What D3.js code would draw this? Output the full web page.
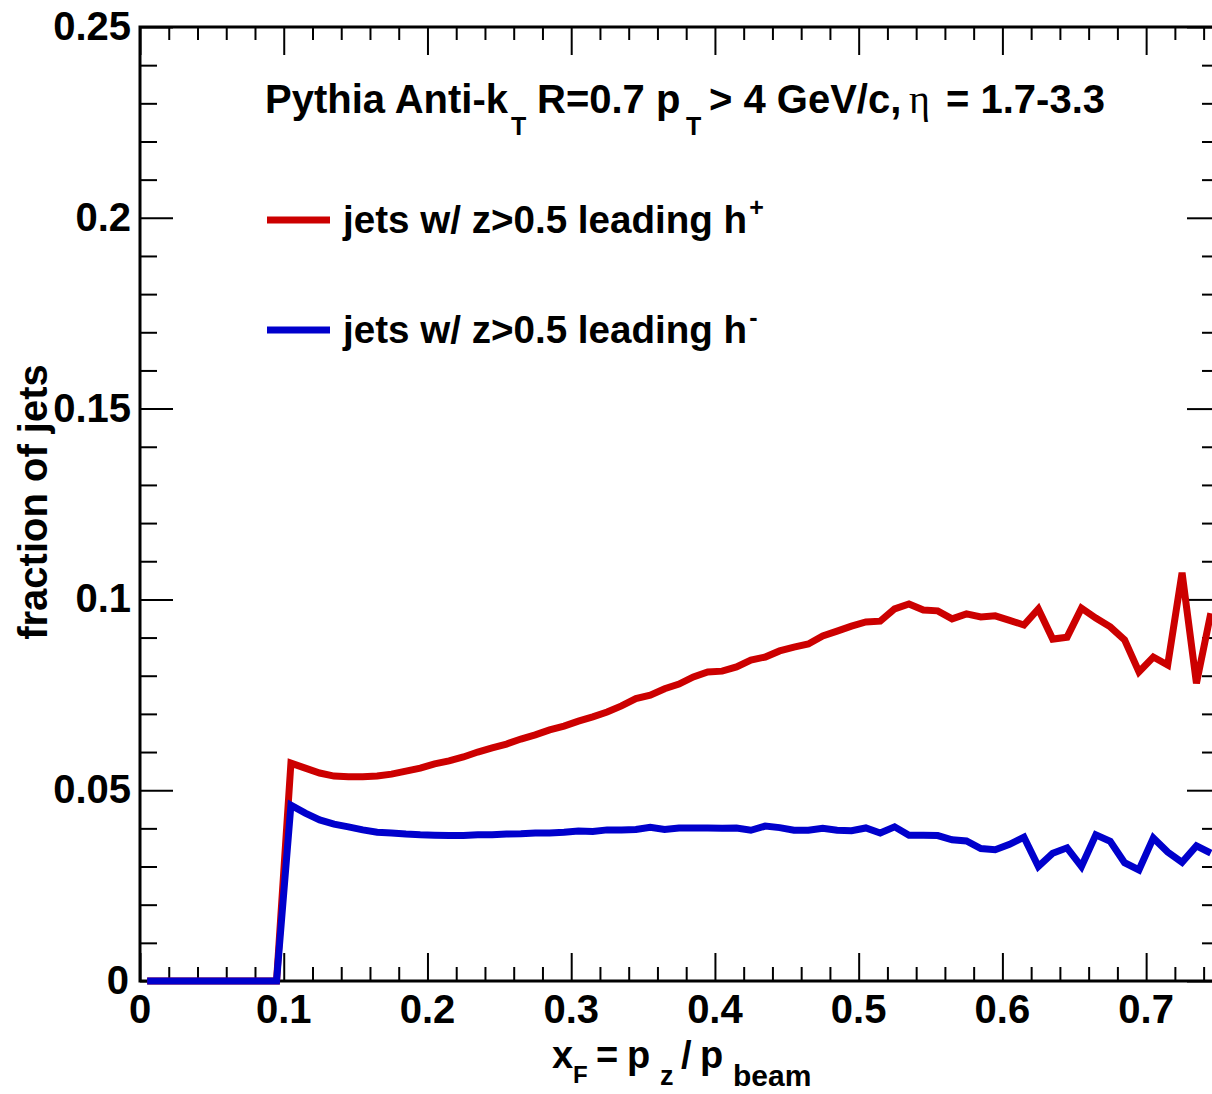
<!doctype html>
<head>
  <meta charset="utf-8">
  <script src="https://cdnjs.cloudflare.com/ajax/libs/d3/7.8.2/d3.min.js"></script>
</head>
<style>
    body { margin: 0; background: white; }
    svg { display: block; }
    text { font-family: "Liberation Sans", Arial, Helvetica, sans-serif; font-weight: bold; fill: black; }
</style>
<body>
<div id="chart"></div>
<script>
// histogram binning (bins of 0.01 from 0 to 0.75)
const binLow = 0;
const binWidth = 0.01;
const nBins = 75;

// fraction of jets, jets w/ z>0.5 leading h+ (bins 0.00 - 0.75)
const redValues = [
    0, 0, 0, 0, 0, 0, 0, 0, 0, 0,
    0.0571, 0.0558, 0.0545, 0.0537, 0.0535, 0.0535, 0.0537, 0.0542, 0.0550, 0.0558,
    0.0569, 0.0577, 0.0587, 0.0600, 0.0611, 0.0621, 0.0634, 0.0645, 0.0658, 0.0668,
    0.0681, 0.0692, 0.0705, 0.0721, 0.0740, 0.0749, 0.0766, 0.0778, 0.0797, 0.0810,
    0.0812, 0.0823, 0.0841, 0.0849, 0.0865, 0.0875, 0.0883, 0.0904, 0.0917, 0.0930,
    0.0941, 0.0943, 0.0975, 0.0988, 0.0972, 0.0970, 0.0949, 0.0962, 0.0954, 0.0957,
    0.0945, 0.0933, 0.0975, 0.0896, 0.0901, 0.0977, 0.0951, 0.0928, 0.0894, 0.0810,
    0.0849, 0.0828, 0.1070, 0.0780, 0.0964
];

// fraction of jets, jets w/ z>0.5 leading h-
const blueValues = [
    0, 0, 0, 0, 0, 0, 0, 0, 0, 0,
    0.0461, 0.0440, 0.0422, 0.0411, 0.0404, 0.0396, 0.0390, 0.0388, 0.0385, 0.0383,
    0.0382, 0.0381, 0.0381, 0.0383, 0.0383, 0.0385, 0.0386, 0.0388, 0.0388, 0.0390,
    0.0393, 0.0392, 0.0396, 0.0396, 0.0397, 0.0403, 0.0397, 0.0401, 0.0401, 0.0401,
    0.0400, 0.0401, 0.0395, 0.0406, 0.0402, 0.0395, 0.0395, 0.0400, 0.0395, 0.0394,
    0.0401, 0.0388, 0.0404, 0.0382, 0.0382, 0.0381, 0.0370, 0.0367, 0.0347, 0.0344,
    0.0358, 0.0377, 0.0300, 0.0335, 0.0349, 0.0300, 0.0383, 0.0366, 0.0310, 0.0291,
    0.0375, 0.0338, 0.0311, 0.0354, 0.0335
];

const xMajorTicks = [0, 0.1, 0.2, 0.3, 0.4, 0.5, 0.6, 0.7];
const yMajorTicks = [0, 0.05, 0.1, 0.15, 0.2, 0.25];
const yTickLabels = ["0", "0.05", "0.1", "0.15", "0.2", "0.25"];

const width = 1212, height = 1094;
const margin = {left: 140, top: 27, right: 1218, bottom: 981};

const svg = d3.select('#chart').append('svg')
    .attr('width', width)
    .attr('height', height);

const x = d3.scaleLinear().domain([0, 0.75]).range([margin.left, margin.right]);
const y = d3.scaleLinear().domain([0, 0.25]).range([margin.bottom, margin.top]);

const xMinor = d3.range(0, 0.7501, 0.02).filter(v => Math.abs(v * 10 - Math.round(v * 10)) > 1e-6);
const yMinor = d3.range(0, 0.2501, 0.01).filter(v => Math.abs(v * 20 - Math.round(v * 20)) > 1e-6);

// ticks go inward, ROOT style
function drawAxis(axis, transform) {
    const g = svg.append('g').attr('transform', transform).call(axis);
    g.select('.domain').remove();
    g.selectAll('text').remove();
    g.selectAll('line').attr('stroke', 'black').attr('stroke-width', 2);
}
drawAxis(d3.axisBottom(x).tickValues(xMajorTicks).tickSize(-28), `translate(0,${margin.bottom})`);
drawAxis(d3.axisBottom(x).tickValues(xMinor).tickSize(-14), `translate(0,${margin.bottom})`);
drawAxis(d3.axisTop(x).tickValues(xMajorTicks).tickSize(-28), `translate(0,${margin.top})`);
drawAxis(d3.axisTop(x).tickValues(xMinor).tickSize(-13), `translate(0,${margin.top})`);
drawAxis(d3.axisLeft(y).tickValues(yMajorTicks).tickSize(-33), `translate(${margin.left},0)`);
drawAxis(d3.axisLeft(y).tickValues(yMinor).tickSize(-17), `translate(${margin.left},0)`);
drawAxis(d3.axisRight(y).tickValues(yMajorTicks).tickSize(-31), `translate(${margin.right},0)`);
drawAxis(d3.axisRight(y).tickValues(yMinor).tickSize(-16), `translate(${margin.right},0)`);

// frame
svg.append('rect')
    .attr('x', margin.left).attr('y', margin.top)
    .attr('width', margin.right - margin.left)
    .attr('height', margin.bottom - margin.top)
    .attr('fill', 'none')
    .attr('stroke', 'black')
    .attr('stroke-width', 3);

// tick labels
svg.append('g').selectAll('text')
    .data(xMajorTicks)
    .enter().append('text')
    .attr('x', d => x(d))
    .attr('y', 1023)
    .attr('text-anchor', 'middle')
    .attr('font-size', 40)
    .text(d => String(d));

svg.append('g').selectAll('text')
    .data(yMajorTicks)
    .enter().append('text')
    .attr('x', d => d === 0 ? 129 : 131)
    .attr('y', d => y(d) + 13)
    .attr('text-anchor', 'end')
    .attr('font-size', 40)
    .text((d, i) => yTickLabels[i]);

// curves through bin centres
const centres = d3.range(nBins).map(i => binLow + (i + 0.5) * binWidth);
const line = d3.line()
    .x((d, i) => x(centres[i]))
    .y(d => y(d));

svg.append('path')
    .datum(redValues)
    .attr('d', line)
    .attr('fill', 'none')
    .attr('stroke', '#cc0000')
    .attr('stroke-width', 7)
    .attr('stroke-linejoin', 'miter');

svg.append('path')
    .datum(blueValues)
    .attr('d', line)
    .attr('fill', 'none')
    .attr('stroke', '#0000cc')
    .attr('stroke-width', 7)
    .attr('stroke-linejoin', 'miter');

// header text, pieces placed like the TLatex output
const title = svg.append('text').attr('font-size', 40);
title.append('tspan').attr('x', 265).attr('y', 113).text('Pythia Anti-k');
title.append('tspan').attr('x', 511).attr('y', 135).attr('font-size', 25).text('T');
title.append('tspan').attr('x', 537).attr('y', 113).text('R=0.7 p');
title.append('tspan').attr('x', 686).attr('y', 135).attr('font-size', 25).text('T');
title.append('tspan').attr('x', 709).attr('y', 113).text('> 4 GeV/c,');
title.append('tspan').attr('x', 909).attr('y', 113)
    .attr('font-weight', 'normal').attr('font-family', '"Liberation Serif", serif').attr('font-size', 40).text('η');
title.append('tspan').attr('x', 946).attr('y', 113).text('= 1.7-3.3');

// legend
const legend = [
    {label: 'jets w/ z>0.5 leading h', sup: '+', color: '#cc0000', y: 220},
    {label: 'jets w/ z>0.5 leading h', sup: '-', color: '#0000cc', y: 330}
];
legend.forEach(d => {
    svg.append('line')
        .attr('x1', 267).attr('x2', 330)
        .attr('y1', d.y).attr('y2', d.y)
        .attr('stroke', d.color)
        .attr('stroke-width', 7);
    const t = svg.append('text').attr('x', 343).attr('y', d.y + 13).attr('font-size', 38.6);
    t.append('tspan').text(d.label);
    t.append('tspan').attr('font-size', 25).attr('dy', -17).attr('dx', 2).text(d.sup);
});

// axis titles
const xt = svg.append('text').attr('font-size', 38);
xt.append('tspan').attr('x', 552).attr('y', 1068).text('x');
xt.append('tspan').attr('x', 573).attr('y', 1083).attr('font-size', 24).text('F');
xt.append('tspan').attr('x', 596).attr('y', 1068).text('=');
xt.append('tspan').attr('x', 627).attr('y', 1068).text('p');
xt.append('tspan').attr('x', 660).attr('y', 1085).attr('font-size', 27).text('z');
xt.append('tspan').attr('x', 681).attr('y', 1068).text('/');
xt.append('tspan').attr('x', 700).attr('y', 1068).text('p');
xt.append('tspan').attr('x', 733).attr('y', 1086).attr('font-size', 30).text('beam');

svg.append('text')
    .attr('transform', 'translate(47,502) rotate(-90)')
    .attr('text-anchor', 'middle')
    .attr('font-size', 40)
    .text('fraction of jets');
</script>
</body>
